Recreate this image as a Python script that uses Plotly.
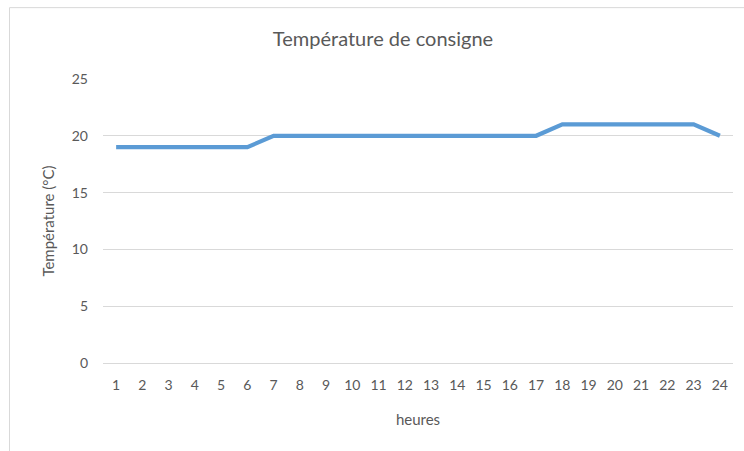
import plotly.graph_objects as go

heures = list(range(1, 25))
temperature = [19, 19, 19, 19, 19, 19, 20, 20, 20, 20, 20, 20, 20, 20, 20, 20, 20,
               21, 21, 21, 21, 21, 21, 20]
y_ticks = [0, 5, 10, 15, 20, 25]

FONT = "Lato, Carlito, 'Open Sans', sans-serif"
GREY = "#595959"

fig = go.Figure()
fig.add_trace(go.Scatter(
    x=heures, y=temperature, mode="lines",
    line=dict(color="#5B9BD5", width=4.2),
    hoverinfo="skip",
))

L, R, T, B = 103, 11, 79, 87.5
W, H = 744, 451
pw, ph = W - L - R, H - T - B

fig.update_layout(
    width=W, height=H,
    margin=dict(l=L, r=R, t=T, b=B, autoexpand=False),
    paper_bgcolor="white", plot_bgcolor="white",
    showlegend=False,
    font=dict(family=FONT, color=GREY, size=14),
    title=dict(text="Température de consigne", x=(383 - L) / pw, xref="paper",
               xanchor="center", y=1 - 39 / H, yanchor="middle",
               font=dict(size=20, color=GREY, family=FONT)),
    xaxis=dict(range=[0.5, 24.5], tickmode="array", tickvals=heures,
               ticktext=[str(h) for h in heures], showgrid=False, zeroline=False,
               showline=False, ticks="", ticklen=0, tickfont=dict(size=14, color=GREY),
               ticklabelstandoff=12,
               title=dict(text="heures", font=dict(size=15, color=GREY), standoff=22)),
    yaxis=dict(range=[0, 25], tickmode="array", tickvals=y_ticks,
               showgrid=True, gridcolor="#d9d9d9", gridwidth=1,
               zeroline=True, zerolinecolor="#d9d9d9", zerolinewidth=1,
               showline=False, ticks="", tickfont=dict(size=14, color=GREY),
               ticklabelstandoff=14,
               title=dict(text="Température (°C)", font=dict(size=15, color=GREY), standoff=13)),
)

# outer chart frame (light grey border as in the reference)
fig.add_shape(type="rect", xref="paper", yref="paper",
              x0=(9.5 - L) / pw, x1=(760 - L) / pw,
              y0=(H - B - 470) / ph, y1=(H - B - 7.5) / ph,
              line=dict(color="#d9d9d9", width=1), fillcolor="rgba(0,0,0,0)", layer="below")

fig.write_html("out.html", config={"displayModeBar": False, "staticPlot": True},
               post_script="document.body.style.margin='0';document.body.style.overflow='hidden';")
